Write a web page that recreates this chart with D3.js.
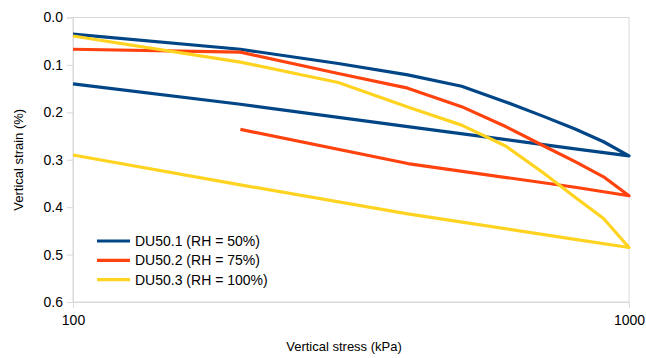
<!DOCTYPE html>
<html>
<head>
<meta charset="utf-8">
<script src="https://cdn.jsdelivr.net/npm/d3@7"></script>
<style>
  html, body { margin: 0; padding: 0; background: #ffffff; }
  svg { display: block; font-family: "Liberation Sans", Arial, sans-serif; }
</style>
</head>
<body>
<svg id="chart" width="646" height="358"></svg>
<script>
// Vertical stress (kPa): loading up to 1000 kPa, then unloading
const stressDU501 = [100, 200, 300, 400, 500, 600, 700, 800, 900, 1000, 800, 400, 200, 100];
const strainDU501 = [0.035, 0.067, 0.097, 0.121, 0.145, 0.178, 0.208, 0.235, 0.262, 0.292, 0.277, 0.230, 0.183, 0.140];

const stressDU502 = [100, 200, 300, 400, 500, 600, 700, 800, 900, 1000, 800, 400, 200];
const strainDU502 = [0.067, 0.073, 0.118, 0.149, 0.188, 0.230, 0.270, 0.304, 0.336, 0.376, 0.358, 0.308, 0.236];

const stressDU503 = [100, 200, 300, 400, 500, 600, 700, 800, 900, 1000, 800, 400, 200, 100];
const strainDU503 = [0.039, 0.094, 0.137, 0.189, 0.227, 0.271, 0.327, 0.379, 0.424, 0.485, 0.468, 0.414, 0.353, 0.290];

const seriesNames = ["DU50.1 (RH = 50%)", "DU50.2 (RH = 75%)", "DU50.3 (RH = 100%)"];
const seriesColors = ["#004586", "#ff420e", "#ffd320"];

const xTicks = [100, 1000];
const yTicks = [0.0, 0.1, 0.2, 0.3, 0.4, 0.5, 0.6];

const series = [
  { name: seriesNames[0], color: seriesColors[0], x: stressDU501, y: strainDU501 },
  { name: seriesNames[1], color: seriesColors[1], x: stressDU502, y: strainDU502 },
  { name: seriesNames[2], color: seriesColors[2], x: stressDU503, y: strainDU503 }
];

const svg = d3.select("#chart");
const plot = { left: 73, right: 629, top: 17.5, bottom: 302 };

const x = d3.scaleLog().domain([100, 1000]).range([plot.left, plot.right]);
const y = d3.scaleLinear().domain([0, 0.6]).range([plot.top, plot.bottom]);

const frameColor = "#d9d9d9";

// Plot frame
svg.append("rect")
  .attr("x", plot.left).attr("y", plot.top)
  .attr("width", plot.right - plot.left).attr("height", plot.bottom - plot.top)
  .attr("fill", "none").attr("stroke", frameColor).attr("stroke-width", 1);

// Y axis (strain increases downward)
const yAxis = d3.axisLeft(y).tickValues(yTicks).tickFormat(d3.format(".1f")).tickSize(6).tickPadding(4);
const gy = svg.append("g").attr("transform", `translate(${plot.left},0)`).call(yAxis);
gy.select(".domain").attr("stroke", frameColor);
gy.selectAll(".tick line").attr("stroke", frameColor);
gy.selectAll(".tick text").attr("fill", "#000").style("font-size", "14px")
  .style("font-family", "'Liberation Sans', Arial, sans-serif");

// X axis (log scale)
const xAxis = d3.axisBottom(x).tickValues(xTicks).tickFormat(d3.format("d")).tickSize(6).tickPadding(7);
const gx = svg.append("g").attr("transform", `translate(0,${plot.bottom})`).call(xAxis);
gx.select(".domain").attr("stroke", frameColor);
gx.selectAll(".tick line").attr("stroke", frameColor);
gx.selectAll(".tick text").attr("fill", "#000").style("font-size", "14px")
  .style("font-family", "'Liberation Sans', Arial, sans-serif");

// Axis titles
svg.append("text")
  .attr("x", 344).attr("y", 351)
  .attr("text-anchor", "middle")
  .style("font-size", "13px").attr("fill", "#000")
  .text("Vertical stress (kPa)");

svg.append("text")
  .attr("transform", `translate(23,${(plot.top + plot.bottom) / 2}) rotate(-90)`)
  .attr("text-anchor", "middle")
  .style("font-size", "13px").attr("fill", "#000")
  .text("Vertical strain (%)");

// Series lines
const line = d3.line().x(d => x(d[0])).y(d => y(d[1]));
svg.append("g").selectAll("path")
  .data(series)
  .join("path")
  .attr("d", s => line(d3.zip(s.x, s.y)))
  .attr("fill", "none")
  .attr("stroke", s => s.color)
  .attr("stroke-width", 3.2)
  .attr("stroke-linejoin", "round");

// Legend
const legend = svg.append("g").attr("transform", "translate(97,241)");
const items = legend.selectAll("g").data(series).join("g")
  .attr("transform", (d, i) => `translate(0,${i * 19.3})`);
items.append("line")
  .attr("x1", 0).attr("x2", 33).attr("y1", 0).attr("y2", 0)
  .attr("stroke", d => d.color).attr("stroke-width", 3.2);
items.append("text")
  .attr("x", 38).attr("y", 5)
  .style("font-size", "14px").attr("fill", "#000")
  .text(d => d.name);
</script>
</body>
</html>
